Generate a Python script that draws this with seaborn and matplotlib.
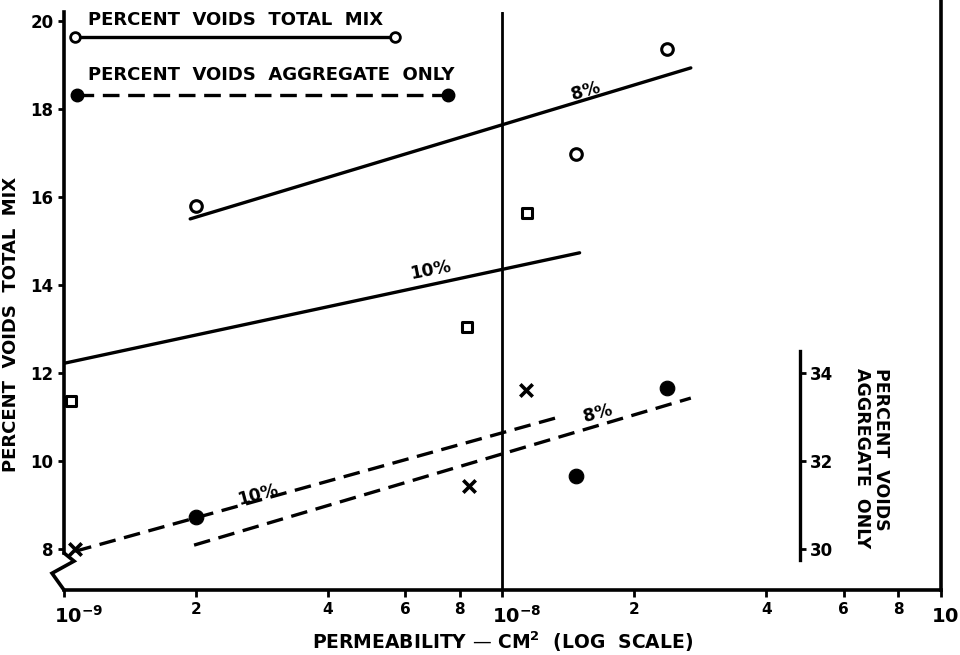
import numpy as np
import pandas as pd
import matplotlib
matplotlib.use("Agg")
import matplotlib.pyplot as plt
import matplotlib.transforms as mtrans
import seaborn as sns
from matplotlib.ticker import FixedLocator

# --- data (permeability in cm^2, voids in %) ---
# points, percent voids total mix (left scale)
tm_circle_x = [2.0e-9, 1.47e-8, 2.37e-8]
tm_circle_y = [15.8, 16.98, 19.36]
tm_square_x = [1.04e-9, 8.3e-9, 1.14e-8]
tm_square_y = [11.36, 13.05, 15.64]
# points, percent voids aggregate only (drawn on the left scale, aggregate = total + 22)
ag_cross_x = [1.06e-9, 8.4e-9, 1.13e-8]
ag_cross_y = [8.0, 9.43, 11.61]
ag_dot_x = [2.0e-9, 1.47e-8, 2.37e-8]
ag_dot_y = [8.73, 9.66, 11.66]

# fitted lines (end points)
fit_tm8_x = [1.94e-9, 2.69e-8]
fit_tm8_y = [15.5, 18.93]
fit_tm10_x = [1.0e-9, 1.5e-8]
fit_tm10_y = [12.22, 14.73]
fit_ag10_x = [1.06e-9, 1.37e-8]
fit_ag10_y = [7.95, 11.02]
fit_ag8_x = [1.98e-9, 2.69e-8]
fit_ag8_y = [8.09, 11.43]

left_ticks = [8, 10, 12, 14, 16, 18, 20]
right_ticks = [30, 32, 34]
offset = 22

sns.set_style("ticks")
plt.rcParams['font.family'] = ['DejaVu Sans']
plt.rcParams['font.weight'] = 'bold'
for k in ['text.color', 'axes.labelcolor', 'xtick.color', 'ytick.color', 'axes.edgecolor']:
    plt.rcParams[k] = 'black'

fig = plt.figure(figsize=(9.6, 6.55), dpi=100)
ax = fig.add_axes([0.0667, 0.0992, 0.9133, 0.8825])
ax.set_xscale('log')
ax.set_xlim(1e-9, 1e-7)
ax.set_ylim(7.07, 20.2)

lw = 2.4
dash = (0, (5, 2.6))
for xs, ys, ls in [(fit_tm8_x, fit_tm8_y, '-'), (fit_tm10_x, fit_tm10_y, '-'),
                   (fit_ag10_x, fit_ag10_y, dash), (fit_ag8_x, fit_ag8_y, dash)]:
    sns.lineplot(x=xs, y=ys, ax=ax, color='black', lw=lw, linestyle=ls, estimator=None, sort=False)

pts = pd.DataFrame({
    'x': tm_circle_x + tm_square_x + ag_cross_x + ag_dot_x,
    'y': tm_circle_y + tm_square_y + ag_cross_y + ag_dot_y,
    'kind': ['circle'] * 3 + ['square'] * 3 + ['cross'] * 3 + ['dot'] * 3,
})
sns.scatterplot(data=pts[pts.kind == 'circle'], x='x', y='y', ax=ax, marker='o', s=70,
                facecolor='white', edgecolor='black', linewidth=2.2, zorder=5)
sns.scatterplot(data=pts[pts.kind == 'square'], x='x', y='y', ax=ax, marker='s', s=55,
                facecolor='white', edgecolor='black', linewidth=2.2, zorder=5)
sns.scatterplot(data=pts[pts.kind == 'cross'], x='x', y='y', ax=ax, marker='x', s=80,
                color='black', linewidth=2.6, zorder=5)
sns.scatterplot(data=pts[pts.kind == 'dot'], x='x', y='y', ax=ax, marker='o', s=110,
                color='black', edgecolor='black', zorder=5)

# vertical line at 10^-8
ax.axvline(1e-8, color='black', lw=2)

# line labels
lab = dict(fontsize=12.5, fontweight='bold', ha='center', va='center')
ax.text(1.55e-8, 18.4, '8%', rotation=16, **lab)
ax.text(6.85e-9, 14.34, '10%', rotation=11, **lab)
ax.text(2.77e-9, 9.23, '10%', rotation=15, **lab)
ax.text(1.65e-8, 11.09, '8%', rotation=15, **lab)

# key in the upper left
ax.text(0.027, 0.986, 'PERCENT  VOIDS  TOTAL  MIX', transform=ax.transAxes, fontsize=13,
        fontweight='bold', va='center')
ax.plot([0.0125, 0.377], [0.957, 0.957], transform=ax.transAxes, color='black', lw=2.4,
        marker='o', ms=7, mfc='white', mew=2)
ax.text(0.027, 0.891, 'PERCENT  VOIDS  AGGREGATE  ONLY', transform=ax.transAxes, fontsize=13,
        fontweight='bold', va='center')
ax.plot([0.015, 0.438], [0.857, 0.857], transform=ax.transAxes, color='black', lw=2.4,
        ls=dash, marker='o', ms=9)

# axis break mark at the lower left
ax.plot([0.0, 0.0114, -0.0137, 0.0], [0.064, 0.050, 0.029, 0.0],
        transform=ax.transAxes, color='black', lw=2.6, clip_on=False, solid_joinstyle='miter')

# spines
sns.despine(ax=ax, top=True, right=False)
for s in ['left', 'bottom', 'right']:
    ax.spines[s].set_linewidth(2.6)
ax.spines['left'].set_bounds(7.91, 20.2)
ax.spines['right'].set_bounds(7.07, 20.6)

# ticks
ax.xaxis.set_major_locator(FixedLocator([1e-9, 1e-8, 1e-7]))
ax.set_xticklabels([r'$\mathbf{10^{-9}}$', r'$\mathbf{10^{-8}}$', r'$\mathbf{10^{-7}}$'])
minor = [2e-9, 4e-9, 6e-9, 8e-9, 2e-8, 4e-8, 6e-8, 8e-8]
ax.set_xticks(minor, ['2', '4', '6', '8', '2', '4', '6', '8'], minor=True)
ax.tick_params(axis='x', which='both', direction='out', length=5, width=2, labelsize=11)
ax.tick_params(axis='x', which='major', labelsize=14, pad=6)
shift = mtrans.ScaledTranslation(-0.1, 0, fig.dpi_scale_trans)
for t in ax.get_xticklabels():
    t.set_horizontalalignment('left')
    t.set_transform(t.get_transform() + shift)
ax.set_yticks(left_ticks)
ax.set_yticklabels([str(t) for t in left_ticks], fontsize=12, fontweight='bold')
ax.tick_params(axis='y', direction='out', length=4, width=2, right=False)

ax.set_xlabel('PERMEABILITY — CM$^{\\mathbf{2}}$  (LOG  SCALE)', fontsize=13.5, fontweight='bold',
              labelpad=2)
ax.set_ylabel('PERCENT  VOIDS  TOTAL  MIX', fontsize=13, fontweight='bold')
ax.yaxis.set_label_coords(-0.05, 0.46)

# secondary scale for aggregate voids
sec = ax.secondary_yaxis(0.839, functions=(lambda y: y + offset, lambda y: y - offset))
sec.set_yticks(right_ticks)
sec.set_yticklabels([str(t) for t in right_ticks], fontsize=12, fontweight='bold')
sec.tick_params(axis='y', direction='out', length=4, width=2)
for s in sec.spines.values():
    s.set_linewidth(2.4)
    s.set_bounds(29.75, 34.5)
ax.text(0.921, 0.384, 'PERCENT  VOIDS\nAGGREGATE  ONLY', transform=ax.transAxes, rotation=270,
        fontsize=12.5, fontweight='bold', ha='center', va='top', multialignment='left',
        linespacing=1.1)

fig.savefig('out.png', dpi=100)
